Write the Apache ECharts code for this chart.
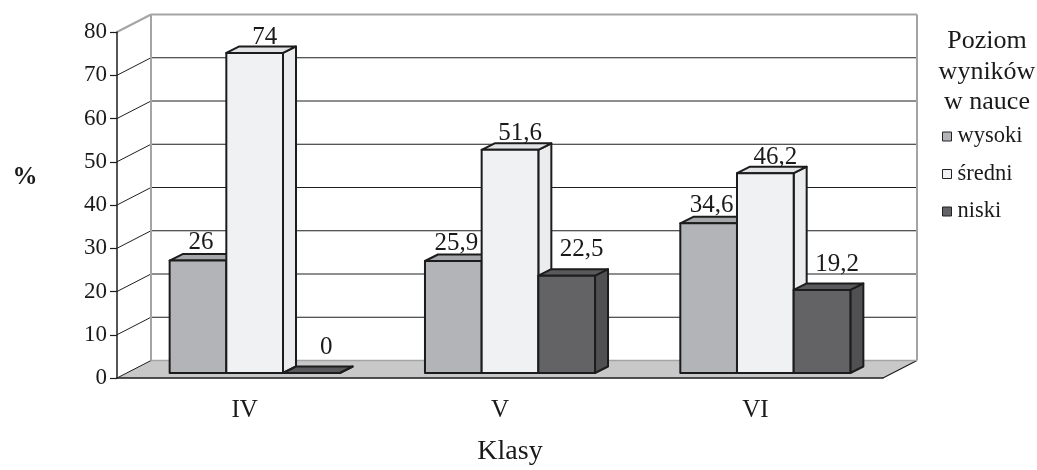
<!DOCTYPE html>
<html>
<head>
<meta charset="utf-8">
<script src="https://cdn.jsdelivr.net/npm/echarts@6/dist/echarts.min.js"></script>
<style>
  html, body { margin: 0; padding: 0; background: #ffffff; }
  #chart { width: 1037px; height: 470px; }
</style>
</head>
<body>
<div id="chart"></div>
<script>
// Poziom wyników w nauce – klasy IV–VI (%)
const categories = ['IV', 'V', 'VI'];
const wysoki = [26, 25.9, 34.6];
const sredni = [74, 51.6, 46.2];
const niski = [0, 22.5, 19.2];
const seriesNames = ['wysoki', 'średni', 'niski'];
const yTicks = [0, 10, 20, 30, 40, 50, 60, 70, 80];

const FONT = 'Liberation Serif';

// pseudo-3D geometry (pixels)
const WALL_DX = 34, WALL_DY = -17.5;   // depth of the plot box
const FRONT_DX = 10, FRONT_DY = -5;    // front plane of the bars
const DEPTH_DX = 13, DEPTH_DY = -6.5;  // thickness of a bar
const BAR_RATIO = 0.222;               // bar width / category band

const faces = [
  { front: '#b3b4b7', top: '#a6a7aa', side: '#9d9ea1', labelDx: 3, labelDy: -4 },
  { front: '#f0f1f3', top: '#e2e3e5', side: '#ebecee', labelDx: 10, labelDy: -2 },
  { front: '#636366', top: '#59595c', side: '#505053', labelDx: 15, labelDy: -12 }
];
const EDGE = '#1c1c1c';

function fmt(v) { return String(v).replace('.', ','); }

function wallsRender(params, api) {
  const cs = params.coordSys;
  const v = api.value(1);
  const y = api.coord([0, v])[1];
  const gx = cs.x, gw = cs.width;
  const children = [];
  if (v === 0) {
    children.push({
      type: 'polygon',
      shape: { points: [[gx, y], [gx + WALL_DX, y + WALL_DY], [gx + gw + WALL_DX, y + WALL_DY], [gx + gw, y]] },
      style: { fill: '#c8c8c8', stroke: null }
    });
    children.push({
      type: 'line',
      shape: { x1: gx + gw, y1: y, x2: gx + gw + WALL_DX, y2: y + WALL_DY },
      style: { stroke: EDGE, lineWidth: 1.2 }
    });
  }
  const isTop = v === yTicks[yTicks.length - 1];
  const back = (v === 0 || isTop) ? '#a4a4a4' : '#1e1e1e';
  children.push({
    type: 'line',
    shape: { x1: gx + WALL_DX, y1: y + WALL_DY, x2: gx + gw + WALL_DX, y2: y + WALL_DY },
    style: { stroke: back, lineWidth: isTop ? 2 : (v === 0 ? 1.5 : 1) }
  });
  children.push({
    type: 'line',
    shape: { x1: gx, y1: y, x2: gx + WALL_DX, y2: y + WALL_DY },
    style: { stroke: isTop ? '#a4a4a4' : '#1e1e1e', lineWidth: isTop ? 2 : 1 }
  });
  if (isTop) {
    const y0 = api.coord([0, 0])[1];
    [gx + WALL_DX, gx + gw + WALL_DX].forEach(function (xx) {
      children.push({
        type: 'line',
        shape: { x1: xx, y1: y + WALL_DY, x2: xx, y2: y0 + WALL_DY },
        style: { stroke: '#a4a4a4', lineWidth: 2 }
      });
    });
  }
  return { type: 'group', children: children };
}

function barRender(slot) {
  const f = faces[slot];
  return function (params, api) {
    const cat = api.value(0), val = api.value(1);
    const base = api.coord([cat, 0]);
    const top = api.coord([cat, val]);
    const band = api.size([1, 0])[0];
    const w = band * BAR_RATIO;
    const x0 = base[0] - 1.5 * w + slot * w + FRONT_DX;
    const x1 = x0 + w;
    const yb = base[1] + FRONT_DY;
    const yt = top[1] + FRONT_DY;
    const st = { stroke: EDGE, lineWidth: 2, lineJoin: 'round' };
    return {
      type: 'group',
      children: [
        {
          type: 'polygon',
          shape: { points: [[x1, yb], [x1 + DEPTH_DX, yb + DEPTH_DY], [x1 + DEPTH_DX, yt + DEPTH_DY], [x1, yt]] },
          style: Object.assign({ fill: f.side }, st)
        },
        {
          type: 'polygon',
          shape: { points: [[x0, yt], [x0 + DEPTH_DX, yt + DEPTH_DY], [x1 + DEPTH_DX, yt + DEPTH_DY], [x1, yt]] },
          style: Object.assign({ fill: f.top }, st)
        },
        {
          type: 'rect',
          shape: { x: x0, y: yt, width: w, height: yb - yt },
          style: Object.assign({ fill: f.front }, st)
        },
        {
          type: 'text',
          x: (x0 + x1) / 2 + f.labelDx,
          y: yt + DEPTH_DY + 5 + f.labelDy,
          style: {
            text: fmt(val),
            fill: '#1a1a1a',
            font: '25px "' + FONT + '"',
            textAlign: 'center',
            textVerticalAlign: 'bottom'
          }
        }
      ]
    };
  };
}

const valueSets = [wysoki, sredni, niski];

const chart = echarts.init(document.getElementById('chart'), null, { renderer: 'canvas' });

const series = [{
  type: 'custom',
  name: 'walls',
  renderItem: wallsRender,
  data: yTicks.map(function (v) { return [0, v]; }),
  clip: false,
  silent: true,
  z: 1
}];
seriesNames.forEach(function (name, i) {
  series.push({
    type: 'custom',
    name: name,
    renderItem: barRender(i),
    itemStyle: { color: faces[i].front },
    data: valueSets[i].map(function (v, k) { return [k, v]; }),
    clip: false,
    z: 2 + i
  });
});

chart.setOption({
  backgroundColor: '#ffffff',
  animation: false,
  grid: { left: 117, right: 154, top: 32, bottom: 92, containLabel: false },
  xAxis: {
    type: 'category',
    data: categories,
    boundaryGap: true,
    z: 10,
    axisLine: { lineStyle: { color: EDGE, width: 1.5 } },
    axisTick: { length: 7, lineStyle: { color: EDGE, width: 1.2 } },
    axisLabel: { margin: 20, fontSize: 25, color: '#1a1a1a', fontFamily: FONT },
    splitLine: { show: false }
  },
  yAxis: {
    type: 'value',
    min: 0, max: 80, interval: 10,
    z: 10,
    axisLine: { show: true, lineStyle: { color: EDGE, width: 1.5 } },
    axisTick: { show: true, length: 7, lineStyle: { color: EDGE, width: 1.2 } },
    axisLabel: { margin: 10, fontSize: 23, color: '#1a1a1a', fontFamily: FONT },
    splitLine: { show: false }
  },
  legend: {
    data: seriesNames,
    orient: 'vertical',
    left: 937,
    top: 120,
    itemWidth: 9,
    itemHeight: 9,
    itemGap: 14.5,
    itemStyle: { borderColor: '#222', borderWidth: 1 },
    icon: 'rect',
    textStyle: { fontSize: 22.5, color: '#1a1a1a', fontFamily: FONT, padding: [0, 0, 0, 1] }
  },
  graphic: [
    {
      type: 'text', x: 987, y: 26,
      style: {
        text: 'Poziom\nwyników\nw nauce',
        font: '26px "' + FONT + '"', fill: '#1a1a1a',
        textAlign: 'center', lineHeight: 30.5
      }
    },
    {
      type: 'text', x: 25, y: 178,
      style: { text: '%', font: 'bold 25px "' + FONT + '"', fill: '#1a1a1a', textAlign: 'center', textVerticalAlign: 'middle' }
    },
    {
      type: 'text', x: 510, y: 452,
      style: { text: 'Klasy', font: '28px "' + FONT + '"', fill: '#1a1a1a', textAlign: 'center', textVerticalAlign: 'middle' }
    }
  ],
  series: series
});
</script>
</body>
</html>
